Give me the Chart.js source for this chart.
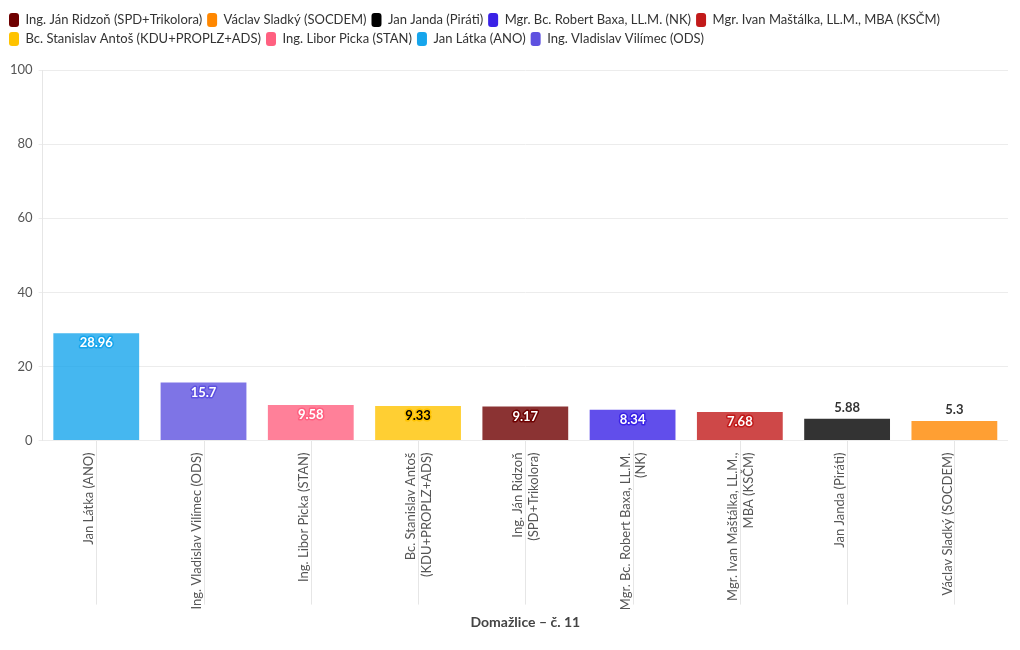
<!DOCTYPE html>
<html>
<head>
<meta charset="utf-8">
<script src="https://cdn.jsdelivr.net/npm/chart.js@4/dist/chart.umd.min.js"></script>
<style>
  html, body { margin: 0; padding: 0; background: #fff; }
  #wrap { width: 1020px; height: 650px; }
</style>
</head>
<body>
<div id="wrap"><canvas id="chart" width="1020" height="650"></canvas></div>
<script>
/* ============================================================
   Data
============================================================ */
// bars, sorted by value
const categories = [
    "Jan Látka (ANO)",
    "Ing. Vladislav Vilímec (ODS)",
    "Ing. Libor Picka (STAN)",
    "Bc. Stanislav Antoš (KDU+PROPLZ+ADS)",
    "Ing. Ján Ridzoň (SPD+Trikolora)",
    "Mgr. Bc. Robert Baxa, LL.M. (NK)",
    "Mgr. Ivan Maštálka, LL.M., MBA (KSČM)",
    "Jan Janda (Piráti)",
    "Václav Sladký (SOCDEM)"
];
const tickLabels = [
    ["Jan Látka (ANO)"],
    ["Ing. Vladislav Vilímec (ODS)"],
    ["Ing. Libor Picka (STAN)"],
    ["Bc. Stanislav Antoš", "(KDU+PROPLZ+ADS)"],
    ["Ing. Ján Ridzoň", "(SPD+Trikolora)"],
    ["Mgr. Bc. Robert Baxa, LL.M.", "(NK)"],
    ["Mgr. Ivan Maštálka, LL.M.,", "MBA (KSČM)"],
    ["Jan Janda (Piráti)"],
    ["Václav Sladký (SOCDEM)"]
];
const values = [28.96, 15.7, 9.58, 9.33, 9.17, 8.34, 7.68, 5.88, 5.3];

// legend order (one dataset per candidate)
const legendOrder = [
    "Ing. Ján Ridzoň (SPD+Trikolora)",
    "Václav Sladký (SOCDEM)",
    "Jan Janda (Piráti)",
    "Mgr. Bc. Robert Baxa, LL.M. (NK)",
    "Mgr. Ivan Maštálka, LL.M., MBA (KSČM)",
    "Bc. Stanislav Antoš (KDU+PROPLZ+ADS)",
    "Ing. Libor Picka (STAN)",
    "Jan Látka (ANO)",
    "Ing. Vladislav Vilímec (ODS)"
];

const axisTitle = "Domažlice – č. 11";
const yTicks = [0, 20, 40, 60, 80, 100];

/* ============================================================
   Colours
============================================================ */
const partyColors = {
    "Ing. Ján Ridzoň (SPD+Trikolora)": [110, 0, 0],
    "Václav Sladký (SOCDEM)": [255, 135, 0],
    "Jan Janda (Piráti)": [0, 0, 0],
    "Mgr. Bc. Robert Baxa, LL.M. (NK)": [58, 34, 230],
    "Mgr. Ivan Maštálka, LL.M., MBA (KSČM)": [194, 26, 26],
    "Bc. Stanislav Antoš (KDU+PROPLZ+ADS)": [255, 195, 0],
    "Ing. Libor Picka (STAN)": [255, 96, 128],
    "Jan Látka (ANO)": [22, 165, 236],
    "Ing. Vladislav Vilímec (ODS)": [94, 81, 224]
};

function rgba(c, a) {
    return `rgba(${c[0]},${c[1]},${c[2]},${a})`;
}

const FONT = "Lato, 'Open Sans', sans-serif";

/* ============================================================
   Plugins
============================================================ */
// extra room under the legend
const legendGap = {
    id: "legendGap",
    beforeInit(chart) {
        const origFit = chart.legend.fit;
        chart.legend.fit = function () {
            origFit.bind(chart.legend)();
            this.height += 14;
        };
    }
};

// light lines through the label area, at each category centre
const labelLines = {
    id: "labelLines",
    beforeDraw(chart) {
        const ctx = chart.ctx;
        const xs = chart.scales.x;
        const top = chart.chartArea.bottom;
        ctx.save();
        ctx.strokeStyle = "#e6e6e6";
        ctx.lineWidth = 1;
        categories.forEach((c, i) => {
            const x = Math.round(xs.getPixelForValue(i)) + 0.5;
            ctx.beginPath();
            ctx.moveTo(x, top);
            ctx.lineTo(x, top + 164);
            ctx.stroke();
        });
        ctx.restore();
    }
};

// value labels: inside top for tall bars, above for short ones
const valueLabels = {
    id: "valueLabels",
    afterDatasetsDraw(chart) {
        const ctx = chart.ctx;
        ctx.save();
        ctx.font = "bold 13px " + FONT;
        ctx.textAlign = "center";
        ctx.textBaseline = "middle";
        ctx.lineJoin = "round";

        chart.data.datasets.forEach((ds, di) => {
            const meta = chart.getDatasetMeta(di);
            const col = partyColors[ds.label];
            meta.data.forEach((bar, i) => {
                const v = ds.data[i];
                if (v === null || v === undefined) return;
                const h = bar.base - bar.y;
                const txt = String(v);
                if (h > 25) {
                    const lum = (0.299 * col[0] + 0.587 * col[1] + 0.114 * col[2]) / 255;
                    ctx.strokeStyle = rgba(col, 1);
                    ctx.lineWidth = 3;
                    ctx.strokeText(txt, bar.x, bar.y + 10);
                    ctx.fillStyle = lum > 0.7 ? "#000" : "#fff";
                    ctx.fillText(txt, bar.x, bar.y + 10);
                } else {
                    ctx.fillStyle = "#333";
                    ctx.fillText(txt, bar.x, bar.y - 11);
                }
            });
        });
        ctx.restore();
    }
};

/* ============================================================
   Chart
============================================================ */
const datasets = legendOrder.map(name => {
    const idx = categories.indexOf(name);
    return {
        label: name,
        data: categories.map((c, i) => (i === idx ? values[idx] : null)),
        backgroundColor: rgba(partyColors[name], 0.8),
        borderWidth: 0
    };
});

const ctx = document.getElementById("chart").getContext("2d");

new Chart(ctx, {
    type: "bar",
    data: {
        labels: tickLabels,
        datasets: datasets
    },
    options: {
        responsive: false,
        maintainAspectRatio: false,
        animation: false,
        layout: {
            padding: { left: 4, right: 12, top: 8, bottom: 19 }
        },
        datasets: {
            bar: { categoryPercentage: 0.8, barPercentage: 1 }
        },
        plugins: {
            tooltip: { enabled: false },
            legend: {
                position: "top",
                align: "start",
                labels: {
                    font: { family: FONT, size: 13 },
                    color: "#333",
                    boxWidth: 10,
                    boxHeight: 14,
                    useBorderRadius: true,
                    borderRadius: 3,
                    padding: 5,
                    generateLabels(chart) {
                        const items = Chart.defaults.plugins.legend.labels.generateLabels(chart);
                        items.forEach(it => {
                            it.fillStyle = rgba(partyColors[it.text], 1);
                            it.strokeStyle = "transparent";
                            it.lineWidth = 0;
                        });
                        return items;
                    }
                }
            }
        },
        scales: {
            x: {
                stacked: true,
                grid: { display: false },
                border: { display: false },
                ticks: {
                    autoSkip: false,
                    maxRotation: 90,
                    minRotation: 90,
                    labelOffset: -7,
                    padding: 4,
                    color: "#555",
                    font: { family: FONT, size: 13 }
                },
                title: {
                    display: true,
                    text: axisTitle,
                    color: "#444",
                    font: { family: FONT, size: 14, weight: "bold" },
                    padding: { top: 0, bottom: 0 }
                }
            },
            y: {
                stacked: true,
                min: 0,
                max: 100,
                afterBuildTicks(scale) {
                    scale.ticks = yTicks.map(v => ({ value: v }));
                },
                grid: { color: "#ececec", tickLength: 4 },
                border: { color: "#e6e6e6" },
                ticks: {
                    color: "#555",
                    padding: 6,
                    font: { family: FONT, size: 13 }
                }
            }
        }
    },
    plugins: [legendGap, labelLines, valueLabels]
});
</script>
</body>
</html>
